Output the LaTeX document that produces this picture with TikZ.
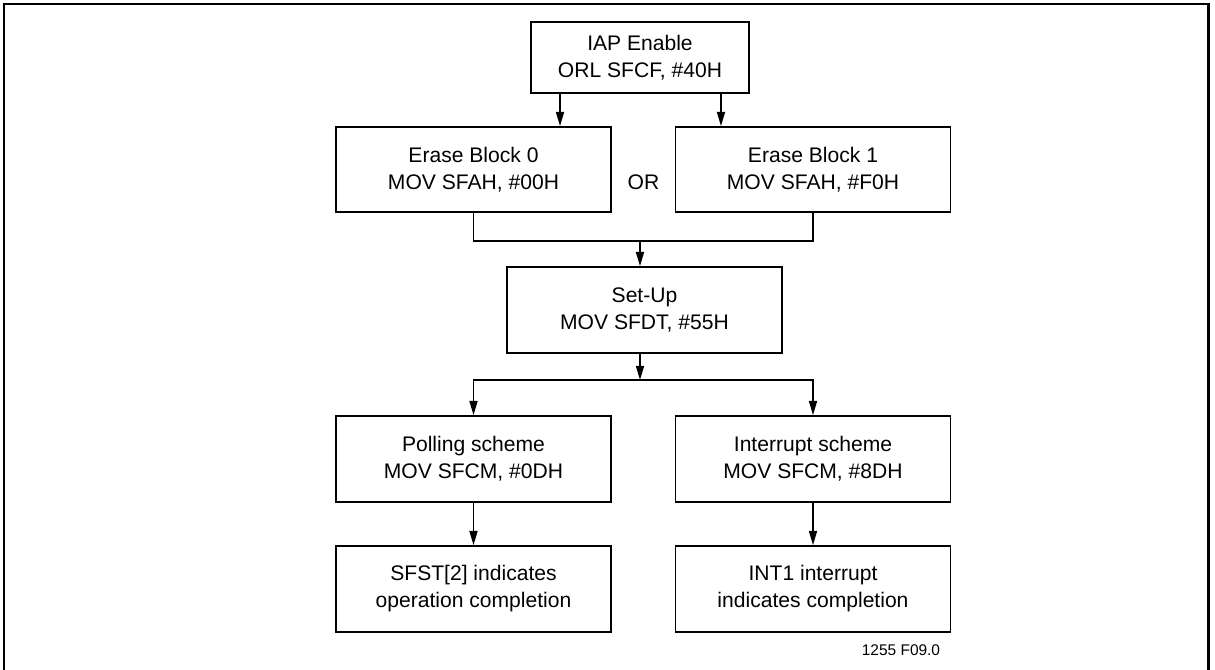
\documentclass[tikz,border=0pt]{standalone}
\usepackage{fontspec}
\setmainfont{Liberation Sans}
\usetikzlibrary{arrows.meta}

\begin{document}
\begin{tikzpicture}[x=0.02cm, y=-0.02cm,
    box/.style={draw, line width=1.1pt, align=center, minimum width=5.5cm, minimum height=1.72cm,
        inner sep=0pt, font=\fontsize{12}{15.4}\selectfont},
    lien/.style={line width=0.8pt},
    arr/.style={line width=0.8pt, -{Triangle[length=8pt, width=4.6pt]}}]
    % cadre
    \useasboundingbox (0,0) rectangle (1215,670);
    \draw[line width=1.7pt] (4,671) -- (4,4) -- (1208,4) -- (1208,671);
    % boites
    \node[box, minimum width=4.36cm, minimum height=1.42cm] (iap) at (640,57.5) {IAP Enable\\ORL SFCF, \#40H};
    \node[box, minimum height=1.7cm] (blk0) at (473.5,169.5) {Erase Block 0\\MOV SFAH, \#00H};
    \node[box, minimum height=1.7cm] (blk1) at (813,169.5) {Erase Block 1\\MOV SFAH, \#F0H};
    \node[font=\fontsize{12}{15.4}\selectfont] (or) at (643.5,182) {OR};
    \node[box] (setup) at (644.5,310) {Set-Up\\MOV SFDT, \#55H};
    \node[box] (poll) at (473.5,459) {Polling scheme\\MOV SFCM, \#0DH};
    \node[box] (intr) at (813,459) {Interrupt scheme\\MOV SFCM, \#8DH};
    \node[box] (sfst) at (473.5,589) {SFST[2] indicates\\operation completion};
    \node[box] (int1) at (813,589) {INT1 interrupt\\indicates completion};
    \node[font=\fontsize{8.8}{10}\selectfont] (ref) at (901,650) {1255 F09.0};
    % fleches
    \draw[arr] ([xshift=-1.6cm]iap.south) -- ([xshift=-1.6cm]iap.south |- blk0.north);
    \draw[arr] ([xshift=1.62cm]iap.south) -- ([xshift=1.62cm]iap.south |- blk1.north);
    \coordinate (join) at (640,241);
    \draw[lien] (blk0.south) |- (join) -| (blk1.south);
    \draw[arr] (join) -- (join |- setup.north);
    \coordinate (split) at (640,380);
    \draw[arr] (setup.south -| split) -- (split);
    \draw[arr] (split) -| (poll.north);
    \draw[arr] (split) -| (intr.north);
    \draw[arr] (poll) -- (sfst);
    \draw[arr] (intr) -- (int1);
\end{tikzpicture}
\end{document}
